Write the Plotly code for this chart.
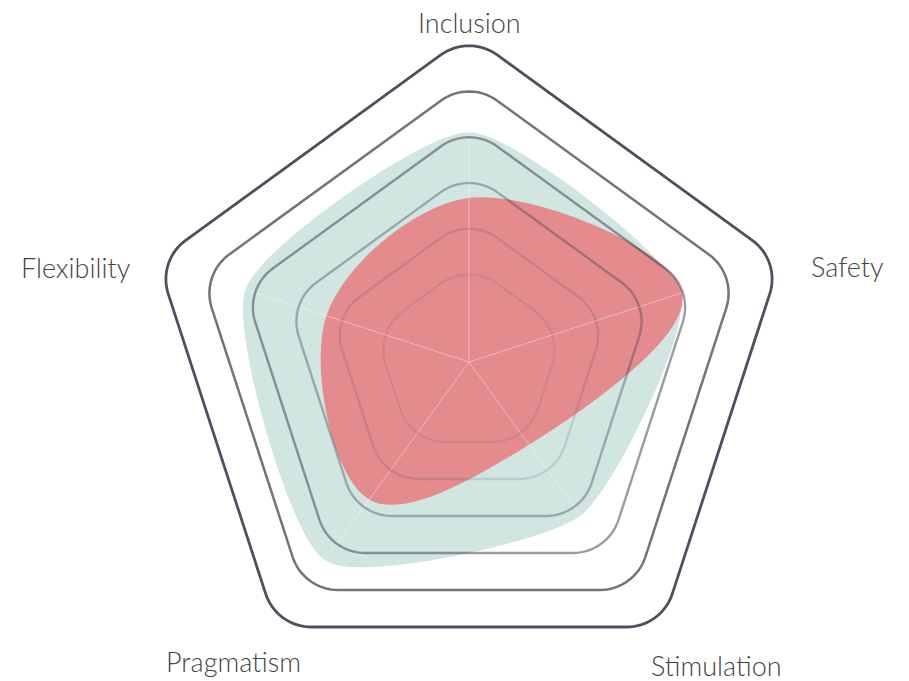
import math
import plotly.graph_objects as go

# ---- data ----
categories = ["Inclusion", "Safety", "Stimulation", "Pragmatism", "Flexibility"]
teal_values = [4.67, 4.46, 3.59, 5.08, 4.81]
red_values = [3.08, 4.70, 1.41, 3.24, 2.70]
grid_levels = [1, 2, 3, 4, 5, 6]

# ---- styling / geometry ----
R_MIN = -1.162            # radial value at the centre
PX_PER_UNIT = 37.0        # radial pixels per unit
DOMAIN_PX = 320           # polar radius in pixels
R_MAX = R_MIN + DOMAIN_PX / PX_PER_UNIT
CORNER_PX = 48            # corner radius of rounded grid pentagons

n = len(categories)
angles = [i * 360 / n for i in range(n)]
label_dist = [339, 390, 391, 381, 404]          # px from centre (label centre)
label_angle = [0, 75.9, 140.8, 218.1, 283.5]    # degrees, clockwise from top
grid_alpha = [0.09, 0.14, 0.36, 0.5, 0.7, 0.88]
grid_widths = [2.4, 2.4, 2.4, 2.4, 2.5, 2.8]

L, T, SIZE = 461 - DOMAIN_PX, 354 - DOMAIN_PX, 2 * DOMAIN_PX


def closed(vals):
    return list(vals) + [vals[0]]


def rounded_ring(level):
    """Rounded regular polygon whose edges sit at radial value `level`."""
    apothem = level - R_MIN
    vert = apothem / math.cos(math.pi / n)
    rho = CORNER_PX / PX_PER_UNIT
    cdist = vert - rho / math.sin(math.pi / 2 - math.pi / n)
    rs, ts = [], []
    for a in angles:
        th = math.radians(a)
        cx, cy = cdist * math.sin(th), cdist * math.cos(th)
        for j in range(17):
            phi = th - math.pi / n + (2 * math.pi / n) * j / 16
            x, y = cx + rho * math.sin(phi), cy + rho * math.cos(phi)
            rs.append(math.hypot(x, y) + R_MIN)
            ts.append(math.degrees(math.atan2(x, y)))
    return closed(rs), closed(ts)


fig = go.Figure()

# data shapes
fig.add_trace(go.Scatterpolar(
    r=closed(teal_values), theta=closed(angles), mode="lines", fill="toself",
    fillcolor="#d1e5e1", cliponaxis=False,
    line=dict(width=28, color="#d1e5e1", shape="spline", smoothing=0.55),
    name="Teal", showlegend=False))
fig.add_trace(go.Scatterpolar(
    r=closed(red_values), theta=closed(angles), mode="lines", fill="toself",
    fillcolor="#e38b8d", cliponaxis=False,
    line=dict(width=14, color="#e38b8d", shape="spline", smoothing=1.0),
    name="Red", showlegend=False))

# spokes
spoke_r, spoke_t = [], []
for ang in angles:
    spoke_r += [R_MIN, 6, None]
    spoke_t += [ang, ang, None]
fig.add_trace(go.Scatterpolar(
    r=spoke_r, theta=spoke_t, mode="lines",
    line=dict(color="rgba(255,255,255,0.4)", width=1),
    hoverinfo="skip", showlegend=False))

# grid (rounded pentagons) drawn over the fills
for lvl, a, w in zip(grid_levels, grid_alpha, grid_widths):
    rr, tt = rounded_ring(lvl)
    fig.add_trace(go.Scatterpolar(
        r=rr, theta=tt, mode="lines", cliponaxis=False,
        line=dict(color=f"rgba(52,57,72,{a})", width=w),
        hoverinfo="skip", showlegend=False))

# category labels
annotations = []
for name, d, ang in zip(categories, label_dist, label_angle):
    rad = math.radians(ang)
    annotations.append(dict(
        text=name, xref="paper", yref="paper",
        x=0.5 + d * math.sin(rad) / SIZE, y=0.5 + d * math.cos(rad) / SIZE,
        xanchor="center", yanchor="middle", showarrow=False, borderpad=0,
        font=dict(family="Lato", size=27, color="#444444", weight=300)))

fig.update_layout(
    width=909, height=681,
    margin=dict(l=L, r=909 - L - SIZE, t=T, b=681 - T - SIZE, autoexpand=False),
    paper_bgcolor="white",
    showlegend=False,
    annotations=annotations,
    polar=dict(
        bgcolor="rgba(0,0,0,0)",
        radialaxis=dict(range=[R_MIN, R_MAX], showgrid=False, showline=False,
                        showticklabels=False, ticks=""),
        angularaxis=dict(type="linear", thetaunit="degrees", direction="clockwise",
                         rotation=90, tickvals=angles, ticktext=categories,
                         showgrid=False, showline=False, showticklabels=False, ticks=""),
    ),
)

fig.write_html("out.html")
